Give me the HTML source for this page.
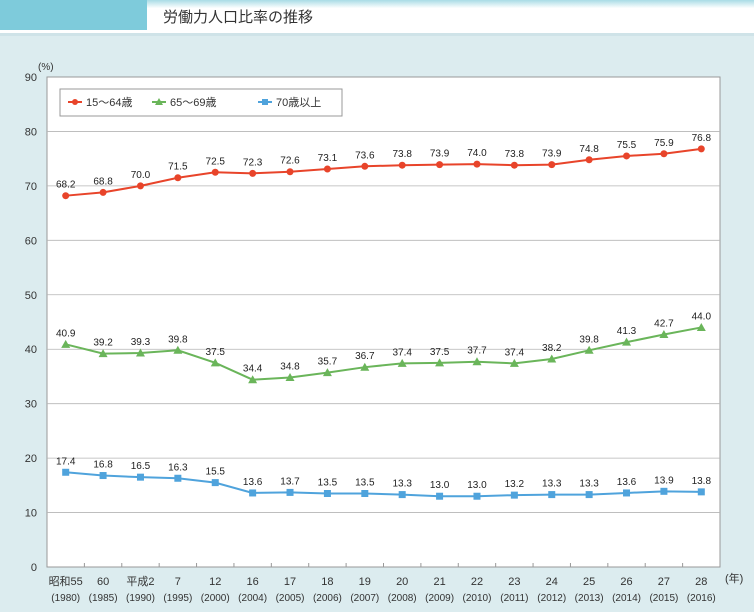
<!DOCTYPE html>
<html><head><meta charset="utf-8"><style>
body{margin:0;width:754px;height:607px;overflow:hidden;background:#dcecef;font-family:"Liberation Sans","Noto Sans CJK JP",sans-serif}
svg text{font-family:"Liberation Sans","Noto Sans CJK JP",sans-serif}
</style></head><body>
<svg width="754" height="607">
<rect x="0" y="0" width="754" height="33" fill="#ffffff"/>
<defs><linearGradient id="hg" x1="0" y1="0" x2="0" y2="1"><stop offset="0" stop-color="#a9dce6"/><stop offset="0.25" stop-color="#fff"/></linearGradient></defs>
<rect x="147" y="0" width="607" height="33" fill="url(#hg)"/>
<rect x="0" y="33" width="754" height="3" fill="#cfe3e8"/>
<rect x="0" y="0" width="147" height="30" fill="#7ecbdb"/>
<text x="163" y="22" font-size="15" fill="#333">労働力人口比率の推移</text>
<rect x="47" y="77" width="673" height="490" fill="#fff" stroke="#999"/>
<text x="38" y="70" font-size="10" fill="#333">(%)</text>
<text x="725" y="582" font-size="11" fill="#333">(年)</text>
<g id="grid"></g><g id="series"></g>
<g>
<rect x="60" y="89" width="282" height="27" fill="#fff" stroke="#999"/>
<line x1="68" y1="102" x2="82" y2="102" stroke="#e8442a" stroke-width="2"/><circle cx="75" cy="102" r="3" fill="#e8442a"/>
<text x="86" y="106" font-size="11" fill="#333">15～64歳</text>
<line x1="152" y1="102" x2="166" y2="102" stroke="#6ab55a" stroke-width="2"/><polygon points="159,98 163,105 155,105" fill="#6ab55a"/>
<text x="170" y="106" font-size="11" fill="#333">65～69歳</text>
<line x1="258" y1="102" x2="272" y2="102" stroke="#4fa3dc" stroke-width="2"/><rect x="262" y="99" width="6" height="6" fill="#4fa3dc"/>
<text x="276" y="106" font-size="11" fill="#333">70歳以上</text>
</g>
</svg>
<script>
const categories=["昭和55","60","平成2","7","12","16","17","18","19","20","21","22","23","24","25","26","27","28"];
const years=["1980","1985","1990","1995","2000","2004","2005","2006","2007","2008","2009","2010","2011","2012","2013","2014","2015","2016"];
const s1564=[68.2,68.8,70.0,71.5,72.5,72.3,72.6,73.1,73.6,73.8,73.9,74.0,73.8,73.9,74.8,75.5,75.9,76.8];
const s6569=[40.9,39.2,39.3,39.8,37.5,34.4,34.8,35.7,36.7,37.4,37.5,37.7,37.4,38.2,39.8,41.3,42.7,44.0];
const s70=[17.4,16.8,16.5,16.3,15.5,13.6,13.7,13.5,13.5,13.3,13.0,13.0,13.2,13.3,13.3,13.6,13.9,13.8];
const yTicks=[0,10,20,30,40,50,60,70,80,90];
const NS="http://www.w3.org/2000/svg";
const L=47,R=720,T=77,B=567;
const bw=(R-L)/categories.length;
const x=i=>L+bw*(i+0.5);
const y=v=>B-(v/90)*(B-T);
function mk(tag,attrs,parent){const e=document.createElementNS(NS,tag);for(const k in attrs)e.setAttribute(k,attrs[k]);parent.appendChild(e);return e;}
const g=document.getElementById('grid'),sg=document.getElementById('series');
yTicks.forEach(t=>{
 if(t>0&&t<90){const l=mk('line',{x1:L,x2:R,y1:y(t),y2:y(t),stroke:'#b5b5b5','stroke-width':0.8},g);
 
 }
 const tx=mk('text',{x:37,y:y(t)+4,'font-size':11,'text-anchor':'end',fill:'#333'},g);tx.textContent=t;
 
 
});
categories.forEach((c,i)=>{
 const tk=mk('line',{x1:L+bw*(i+1),x2:L+bw*(i+1),y1:B,y2:B-4,stroke:'#999'},g);
 
 
 const t1=mk('text',{x:x(i),y:585,'font-size':11,'text-anchor':'middle',fill:'#333'},g);t1.textContent=c;
 
 
 const t2=mk('text',{x:x(i),y:601,'font-size':10,'text-anchor':'middle',fill:'#333'},g);t2.textContent='('+years[i]+')';
 
 
});
function series(vals,color,shape,name){
 const p=mk('polyline',{points:vals.map((v,i)=>x(i)+','+y(v)).join(' '),fill:'none',stroke:color,'stroke-width':2},sg);
 
 
 vals.forEach((v,i)=>{
  let m;const cx=x(i),cy=y(v);
  if(shape==='c')m=mk('circle',{cx:cx,cy:cy,r:3.5,fill:color},sg);
  else if(shape==='t')m=mk('polygon',{points:`${cx},${cy-4.5} ${cx+4.5},${cy+3.5} ${cx-4.5},${cy+3.5}`,fill:color},sg);
  else m=mk('rect',{x:cx-3.5,y:cy-3.5,width:7,height:7,fill:color},sg);
  
  
  const t=mk('text',{x:cx,y:cy-8,'font-size':10,'text-anchor':'middle',fill:'#222'},sg);t.textContent=v.toFixed(1);
  
  
 });
}
series(s1564,'#e8442a','c','series-15-64');
series(s6569,'#6ab55a','t','series-65-69');
series(s70,'#4fa3dc','s','series-70plus');
</script>
</body></html>
